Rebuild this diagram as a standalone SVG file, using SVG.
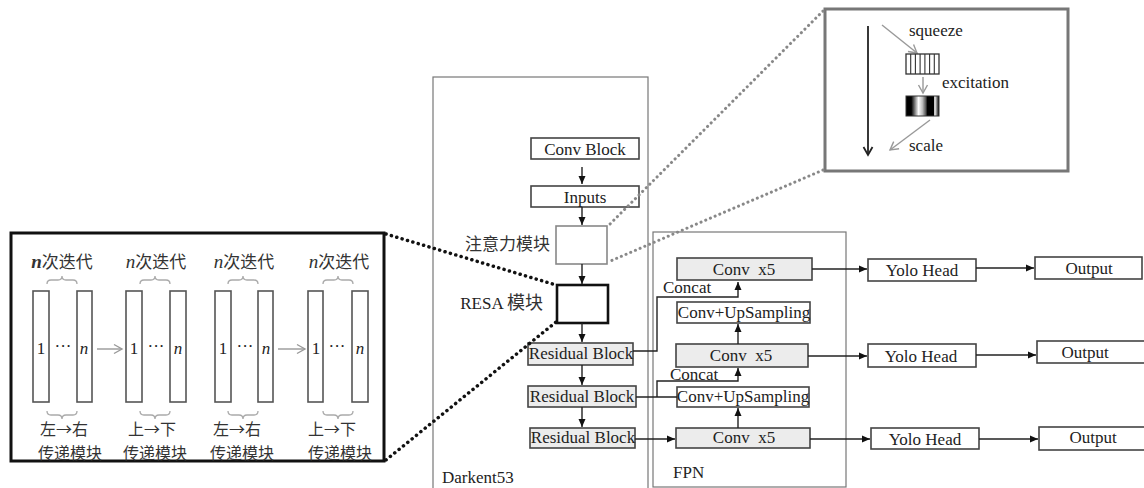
<svg xmlns="http://www.w3.org/2000/svg" width="1144" height="488" viewBox="0 0 1144 488">
<style>
.t{font-family:"Liberation Serif","Noto Sans CJK SC",serif;font-size:17px;fill:#222}
.m{text-anchor:middle}
.c{font-family:"Noto Sans CJK SC",sans-serif;font-size:17px;fill:#333}
.cs{font-size:16px}
.box{fill:#fff;stroke:#444;stroke-width:1.6}
.gbox{fill:#ececec;stroke:#444;stroke-width:1.6}
.frame{fill:none;stroke:#777;stroke-width:1.2}
.ln{fill:none;stroke:#222;stroke-width:1.4}
.gl{fill:none;stroke:#999;stroke-width:1.4}
.bar{fill:#fff;stroke:#555;stroke-width:1.6}
.br{fill:none;stroke:#aaa;stroke-width:1.3}
.dotk{fill:none;stroke:#111;stroke-width:3.5;stroke-dasharray:0.1 5.5;stroke-linecap:round}
.dotg{fill:none;stroke:#888;stroke-width:3;stroke-dasharray:0.1 5;stroke-linecap:round}
</style>
<defs>
<marker id="ah" markerWidth="9" markerHeight="8" refX="8" refY="4" orient="auto" markerUnits="userSpaceOnUse"><path d="M0,0.5 L8,4 L0,7.5 z" fill="#111"/></marker>
<marker id="ao" markerWidth="12" markerHeight="12" refX="10" refY="6" orient="auto" markerUnits="userSpaceOnUse"><path d="M2,1.5 L10,6 L2,10.5" fill="none" stroke="#999" stroke-width="1.4"/></marker>
<marker id="ak" markerWidth="12" markerHeight="12" refX="10" refY="6" orient="auto" markerUnits="userSpaceOnUse"><path d="M2,1.5 L10,6 L2,10.5" fill="none" stroke="#222" stroke-width="1.8"/></marker>
<linearGradient id="exc" x1="0" y1="0" x2="1" y2="0">
<stop offset="0" stop-color="#000"/><stop offset="0.16" stop-color="#000"/><stop offset="0.38" stop-color="#fff"/><stop offset="0.5" stop-color="#bbb"/><stop offset="0.6" stop-color="#555"/><stop offset="0.65" stop-color="#000"/><stop offset="0.84" stop-color="#000"/><stop offset="0.87" stop-color="#fff"/><stop offset="0.93" stop-color="#888"/><stop offset="1" stop-color="#000"/>
</linearGradient>
</defs>

<!-- frames -->
<rect id="darknet" class="frame" x="433" y="77" width="215" height="420"/>
<text class="t" x="442" y="483">Darkent53</text>
<rect id="fpn" class="frame" x="653" y="232" width="193" height="255"/>
<text class="t" x="673" y="478">FPN</text>

<!-- SE detail box -->
<g id="se-box">
<rect x="825" y="9" width="243" height="162" fill="#fff" stroke="#777" stroke-width="3"/>
<line x1="868" y1="26" x2="868" y2="155" stroke="#222" stroke-width="1.8" marker-end="url(#ak)"/>
<line x1="882" y1="25" x2="917" y2="53" class="gl" marker-end="url(#ao)"/>
<text class="t" x="909" y="36" font-size="16">squeeze</text>
<rect x="906" y="54" width="33" height="20" fill="#fff" stroke="#333" stroke-width="1.3"/>
<path d="M910.7,54V74M915.4,54V74M920.1,54V74M924.9,54V74M929.6,54V74M934.3,54V74" stroke="#333" stroke-width="1.1"/>
<line x1="923" y1="77" x2="923" y2="93" class="gl" marker-end="url(#ao)"/>
<text class="t" x="942" y="88" font-size="16">excitation</text>
<rect x="906" y="96" width="33" height="20" fill="url(#exc)" stroke="#333" stroke-width="1"/>
<line x1="930" y1="120" x2="890" y2="150" class="gl" marker-end="url(#ao)"/>
<text class="t" x="909" y="151" font-size="16">scale</text>
</g>

<!-- left detail box -->
<g id="resa-detail">
<rect x="11" y="233" width="373" height="228" fill="#fff" stroke="#111" stroke-width="3"/>
<text class="c m" x="62" y="268"><tspan font-family="Liberation Serif" font-style="italic" font-weight="bold" font-size="19">n</tspan>次迭代</text>
<text class="c m" x="156" y="268"><tspan font-family="Liberation Serif" font-style="italic" font-size="19">n</tspan>次迭代</text>
<text class="c m" x="244" y="268"><tspan font-family="Liberation Serif" font-style="italic" font-size="19">n</tspan>次迭代</text>
<text class="c m" x="339" y="268"><tspan font-family="Liberation Serif" font-style="italic" font-size="19">n</tspan>次迭代</text>
<path class="br" d="M47,284 Q47,280 51,280 L58,280 Q62,280 62,276 Q62,280 66,280 L73,280 Q77,280 77,284"/>
<path class="br" d="M140,284 Q140,280 144,280 L151,280 Q155,280 155,276 Q155,280 159,280 L166,280 Q170,280 170,284"/>
<path class="br" d="M228,284 Q228,280 232,280 L239,280 Q243,280 243,276 Q243,280 247,280 L254,280 Q258,280 258,284"/>
<path class="br" d="M323,284 Q323,280 327,280 L334,280 Q338,280 338,276 Q338,280 342,280 L349,280 Q353,280 353,284"/>
<rect class="bar" x="33" y="291" width="16" height="111"/>
<rect class="bar" x="77" y="291" width="15" height="111"/>
<rect class="bar" x="126" y="291" width="16" height="111"/>
<rect class="bar" x="170" y="291" width="16" height="111"/>
<rect class="bar" x="215" y="291" width="16" height="111"/>
<rect class="bar" x="258" y="291" width="15" height="111"/>
<rect class="bar" x="308" y="291" width="15" height="111"/>
<rect class="bar" x="352" y="291" width="16" height="111"/>
<text class="t m" x="41" y="354">1</text><text class="t m" x="63" y="352" font-size="13">···</text><text class="t m" x="84" y="354" font-style="italic">n</text>
<text class="t m" x="134" y="354">1</text><text class="t m" x="156" y="352" font-size="13">···</text><text class="t m" x="178" y="354" font-style="italic">n</text>
<text class="t m" x="223" y="354">1</text><text class="t m" x="245" y="352" font-size="13">···</text><text class="t m" x="266" y="354" font-style="italic">n</text>
<text class="t m" x="316" y="354">1</text><text class="t m" x="337" y="352" font-size="13">···</text><text class="t m" x="360" y="354" font-style="italic">n</text>
<line x1="97" y1="349" x2="122" y2="349" class="gl" marker-end="url(#ao)"/>
<line x1="278" y1="349" x2="305" y2="349" class="gl" marker-end="url(#ao)"/>
<path class="br" d="M47,411 Q47,415 51,415 L58,415 Q62,415 62,419 Q62,415 66,415 L73,415 Q77,415 77,411"/>
<path class="br" d="M140,411 Q140,415 144,415 L151,415 Q155,415 155,419 Q155,415 159,415 L166,415 Q170,415 170,411"/>
<path class="br" d="M228,411 Q228,415 232,415 L239,415 Q243,415 243,419 Q243,415 247,415 L254,415 Q258,415 258,411"/>
<path class="br" d="M323,411 Q323,415 327,415 L334,415 Q338,415 338,419 Q338,415 342,415 L349,415 Q353,415 353,411"/>
<text class="c cs m" x="64" y="435">左→右</text>
<text class="c cs m" x="70" y="459">传递模块</text>
<text class="c cs m" x="152" y="435">上→下</text>
<text class="c cs m" x="155" y="459">传递模块</text>
<text class="c cs m" x="237" y="435">左→右</text>
<text class="c cs m" x="242" y="459">传递模块</text>
<text class="c cs m" x="332" y="435">上→下</text>
<text class="c cs m" x="340" y="459">传递模块</text>
</g>

<!-- backbone nodes -->
<g id="conv-block"><rect class="box" x="531" y="138" width="108" height="21"/><text class="t m" x="585" y="155">Conv Block</text></g>
<g id="inputs"><rect class="box" x="531" y="186" width="108" height="21"/><text class="t m" x="585" y="203">Inputs</text></g>
<g id="attention"><rect x="556" y="226" width="51" height="38" fill="#fff" stroke="#888" stroke-width="1.6"/><text class="c" x="550" y="250" text-anchor="end" font-size="18">注意力模块</text></g>
<g id="resa"><rect x="557" y="285" width="51" height="38" fill="#fff" stroke="#111" stroke-width="2.6"/><text class="t" x="543" y="309" text-anchor="end" font-size="17">RESA <tspan font-family="Noto Sans CJK SC" font-size="18" fill="#333">模块</tspan></text></g>
<g id="res1"><rect class="gbox" x="528" y="343" width="105" height="22"/><text class="t m" x="581" y="359">Residual Block</text></g>
<g id="res2"><rect class="gbox" x="528" y="386" width="108" height="21"/><text class="t m" x="582" y="402">Residual Block</text></g>
<g id="res3"><rect class="gbox" x="530" y="428" width="105" height="20"/><text class="t m" x="583" y="443">Residual Block</text></g>

<!-- FPN nodes -->
<g id="conv5-1"><rect class="gbox" x="677" y="258" width="135" height="22"/><text class="t m" x="744" y="275" xml:space="preserve">Conv  x5</text></g>
<g id="up-1"><rect class="box" x="677" y="302" width="133" height="21"/><text class="t m" x="744" y="318">Conv+UpSampling</text></g>
<g id="conv5-2"><rect class="gbox" x="676" y="344" width="132" height="23"/><text class="t m" x="741" y="361" xml:space="preserve">Conv  x5</text></g>
<g id="up-2"><rect class="box" x="677" y="387" width="132" height="20"/><text class="t m" x="743" y="402">Conv+UpSampling</text></g>
<g id="conv5-3"><rect class="gbox" x="676" y="428" width="134" height="20"/><text class="t m" x="744" y="443" xml:space="preserve">Conv  x5</text></g>

<!-- heads and outputs -->
<g id="yolo-1"><rect class="box" x="868" y="259" width="108" height="22"/><text class="t m" x="922" y="276">Yolo Head</text></g>
<g id="yolo-2"><rect class="box" x="868" y="344" width="108" height="23"/><text class="t m" x="921" y="362">Yolo Head</text></g>
<g id="yolo-3"><rect class="box" x="871" y="428" width="108" height="21"/><text class="t m" x="925" y="445">Yolo Head</text></g>
<g id="out-1"><rect class="box" x="1035" y="257" width="107" height="22"/><text class="t m" x="1089" y="274">Output</text></g>
<g id="out-2"><rect class="box" x="1037" y="341" width="112" height="22"/><text class="t m" x="1085" y="358">Output</text></g>
<g id="out-3"><rect class="box" x="1039" y="427" width="112" height="23"/><text class="t m" x="1093" y="443">Output</text></g>

<!-- connectors -->
<g id="connectors">
<line class="ln" x1="582" y1="167" x2="582" y2="184" marker-end="url(#ah)"/>
<line class="ln" x1="582" y1="207" x2="582" y2="225" marker-end="url(#ah)"/>
<line class="ln" x1="582" y1="264" x2="582" y2="284" marker-end="url(#ah)"/>
<line class="ln" x1="582" y1="323" x2="582" y2="342" marker-end="url(#ah)"/>
<line class="ln" x1="582" y1="365" x2="582" y2="385" marker-end="url(#ah)"/>
<line class="ln" x1="582" y1="407" x2="582" y2="427" marker-end="url(#ah)"/>
<polyline class="ln" points="633,351 657,351 657,297 738,297 738,282" marker-end="url(#ah)"/>
<text class="t" x="663" y="293">Concat</text>
<line class="ln" x1="738" y1="344" x2="738" y2="324" marker-end="url(#ah)"/>
<line class="ln" x1="636" y1="397" x2="677" y2="397"/>
<polyline class="ln" points="657,397 657,381 738,381 738,368" marker-end="url(#ah)"/>
<text class="t" x="670" y="380">Concat</text>
<line class="ln" x1="738" y1="428" x2="738" y2="408" marker-end="url(#ah)"/>
<line class="ln" x1="635" y1="439" x2="675" y2="439" marker-end="url(#ah)"/>
<line class="ln" x1="812" y1="269" x2="867" y2="269" marker-end="url(#ah)"/>
<line class="ln" x1="808" y1="356" x2="867" y2="356" marker-end="url(#ah)"/>
<line class="ln" x1="810" y1="439" x2="870" y2="439" marker-end="url(#ah)"/>
<line class="ln" x1="976" y1="268" x2="1034" y2="268" marker-end="url(#ah)"/>
<line class="ln" x1="976" y1="355" x2="1036" y2="355" marker-end="url(#ah)"/>
<line class="ln" x1="979" y1="439" x2="1038" y2="439" marker-end="url(#ah)"/>
<line class="dotg" x1="823" y1="11" x2="608" y2="226"/>
<line class="dotg" x1="823" y1="170" x2="608" y2="262"/>
<line class="dotk" x1="386" y1="234" x2="556" y2="285"/>
<line class="dotk" x1="386" y1="460" x2="556" y2="322"/>
</g>
</svg>
